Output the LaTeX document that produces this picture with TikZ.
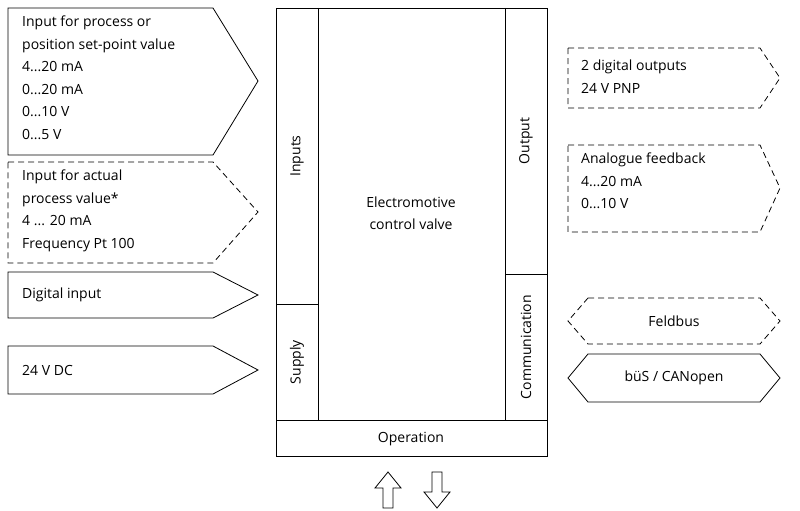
\documentclass[tikz,border=0pt]{standalone}
\usepackage{fontspec}
\setmainfont{Open Sans}
\usetikzlibrary{positioning}
\tikzset{
  box/.style={draw,line width=0.8pt},
  dsh/.style={draw,line width=0.8pt,dash pattern=on 6pt off 4pt},
  txt/.style={align=left,anchor=north west,inner sep=0pt,font=\fontsize{14}{22.5}\selectfont},
  lbl/.style={inner sep=0pt,font=\fontsize{14}{17}\selectfont},
}
\begin{document}
\begin{tikzpicture}[x=1pt,y=-1pt]
\useasboundingbox (0,0) rectangle (800,511);
% main unit
\draw[box] (276,8) rectangle (547,456);
\draw[box] (318,8) -- (318,420);
\draw[box] (505,8) -- (505,420);
\draw[box] (276,420) -- (547,420);
\draw[box] (276,304) -- (318,304);
\draw[box] (505,274) -- (547,274);
\node[lbl,rotate=90] (inputs) at (297,156) {Inputs};
\node[lbl,rotate=90] (supply) at (297,362) {Supply};
\node[lbl,rotate=90] (output) at (526,141) {Output};
\node[lbl,rotate=90] (comm) at (526,347) {Communication};
\node[lbl] (oper) at (411,439) {Operation};
\node[lbl,align=center,font=\fontsize{14}{22.5}\selectfont] (valve) at (411,213) {Electromotive\\control valve};
% left inputs
\draw[box] (8,8) -- (213,8) -- (258,81) -- (213,155) -- (8,155) -- cycle;
\node[txt] (in1) at (22,16) {Input for process or\\position set-point value\\4...20 mA\\0...20 mA\\0...10 V\\0...5 V};
\draw[dsh] (8,162) -- (213,162) -- (258,212) -- (213,263) -- (8,263) -- cycle;
\node[txt] (in2) at (22,170) {Input for actual\\process value*\\4 ... 20 mA\\Frequency Pt 100};
\draw[box] (8,272) -- (213,272) -- (258,295) -- (213,318) -- (8,318) -- cycle;
\node[lbl,anchor=west] (in3) at (22,295) {Digital input};
\draw[box] (8,346) -- (213,346) -- (258,370) -- (213,394) -- (8,394) -- cycle;
\node[lbl,anchor=west] (in4) at (22,370) {24 V DC};
% right outputs
\draw[dsh] (568,48) -- (760,48) -- (780,78) -- (760,108) -- (568,108) -- cycle;
\node[txt] (out1) at (581,60) {2 digital outputs\\24 V PNP};
\draw[dsh] (568,145) -- (760,145) -- (780,188) -- (760,232) -- (568,232) -- cycle;
\node[txt] (out2) at (581,153) {Analogue feedback\\4...20 mA\\0...10 V};
\draw[dsh] (588,298) -- (760,298) -- (780,321) -- (760,344) -- (588,344) -- (568,321) -- cycle;
\node[lbl] (bus1) at (674,321) {Feldbus};
\draw[box] (588,354) -- (760,354) -- (780,378) -- (760,402) -- (588,402) -- (568,378) -- cycle;
\node[lbl] (bus2) at (674,378) {büS / CANopen};
% operation arrows
\draw[line width=0.8pt] (383,508) -- (383,488) -- (375,488) -- (388,472) -- (401,488) -- (393,488) -- (393,508) -- cycle;
\draw[line width=0.8pt] (432,472) -- (432,492) -- (424,492) -- (437,508) -- (450,492) -- (442,492) -- (442,472) -- cycle;
\end{tikzpicture}
\end{document}
